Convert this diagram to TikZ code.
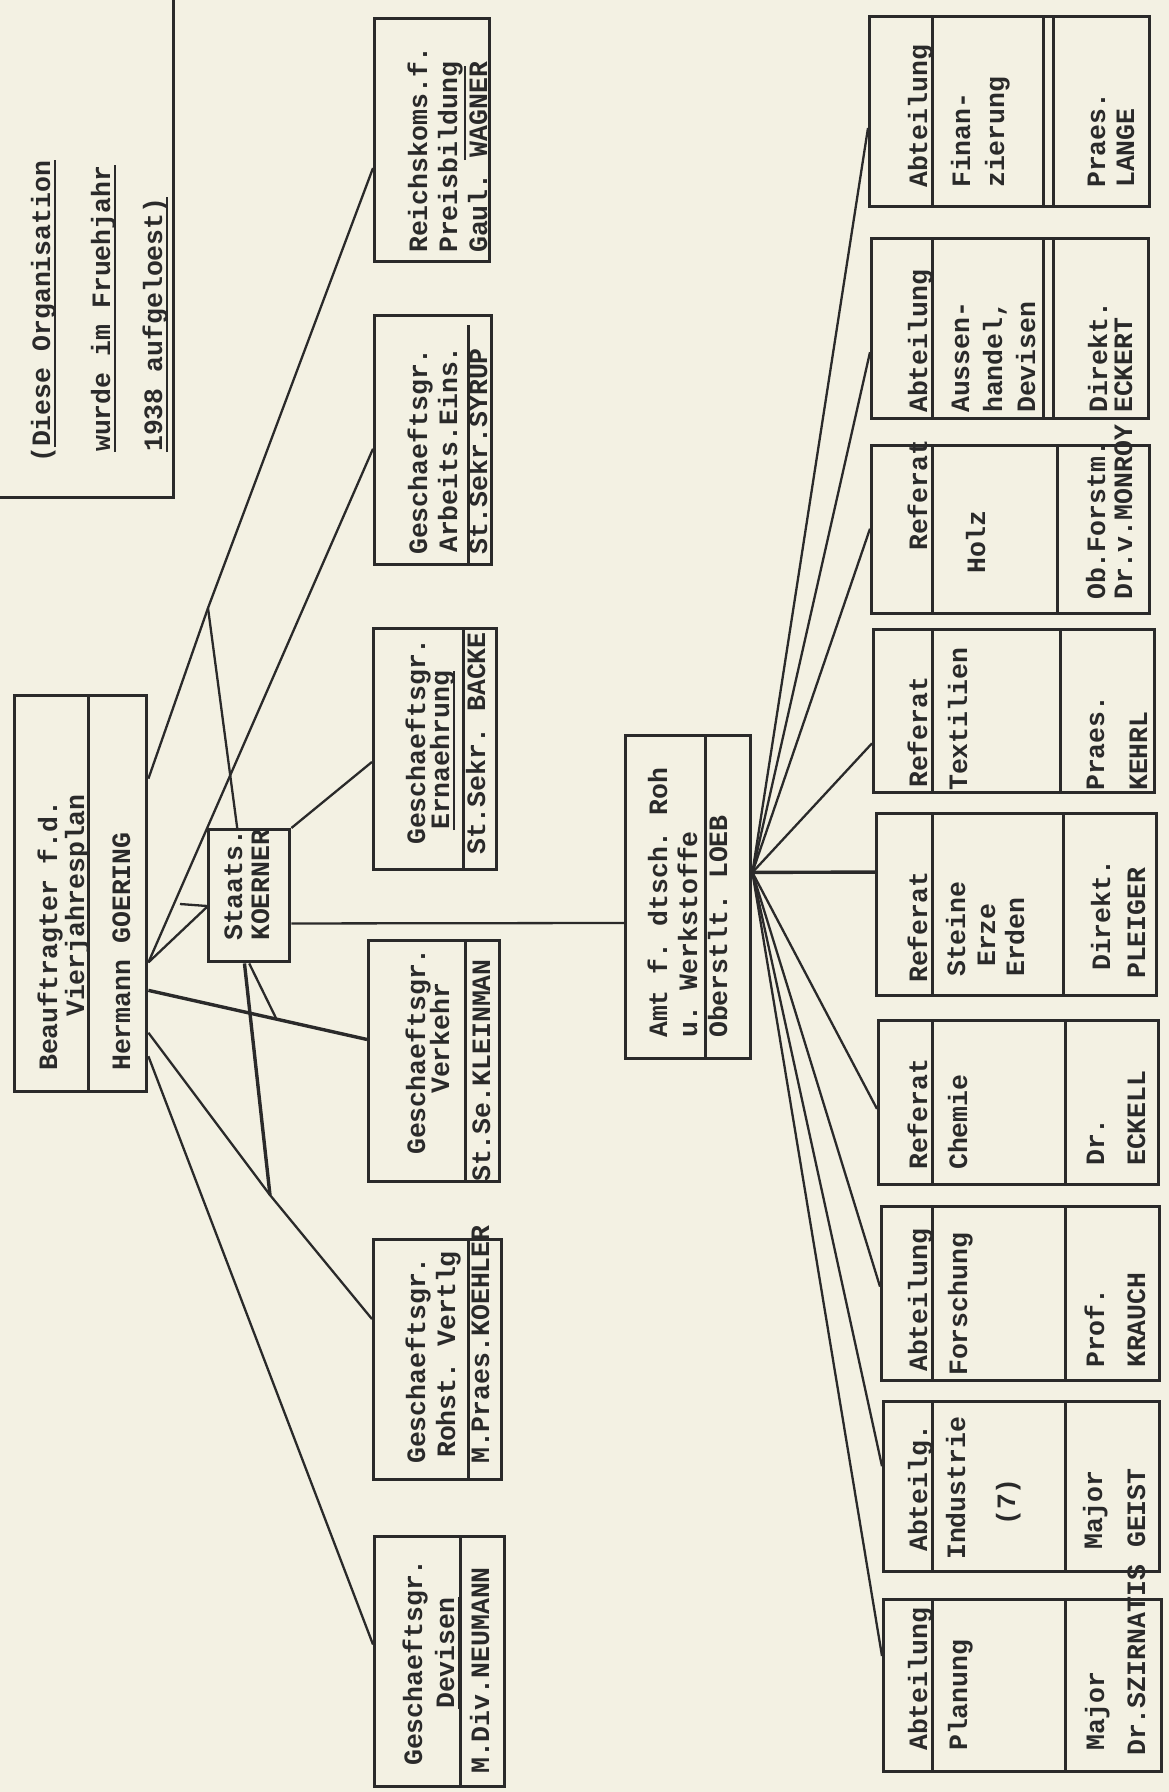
\documentclass[tikz,border=0pt]{standalone}
\usepackage{fontspec}
\setmonofont{Liberation Mono}
\usetikzlibrary{calc}
\definecolor{paper}{RGB}{243,241,227}
\definecolor{ink}{RGB}{42,42,42}
\tikzset{
  box/.style={draw=ink, line width=3.4pt, inner sep=0pt, anchor=north west, rectangle},
  tx/.style={rotate=90, anchor=west, inner sep=0pt, text height=14pt, text depth=0pt, text=ink,
    font=\ttfamily\bfseries\fontsize{26.5}{30}\selectfont},
  con/.style={draw=ink, line width=2.3pt},
  conthick/.style={draw=ink, line width=3.4pt},
  divline/.style={draw=ink, line width=3pt},
  uline/.style={draw=ink, line width=2pt}
}
\begin{document}
\begin{tikzpicture}[x=1pt,y=-1pt]
\useasboundingbox (0,0) rectangle (1169,1792);
\fill[paper] (0,0) rectangle (1169,1792);

% ---------- boxes ----------
\node[box,anchor=south east,minimum width=220pt,minimum height=540pt] (note) at (175,499) {};
\node[box,minimum width=115pt,minimum height=243pt] (reich) at (373,17) {};
\node[box,minimum width=117pt,minimum height=249pt] (arbeit) at (373,314) {};
\node[box,minimum width=123pt,minimum height=241pt] (ernae) at (372,627) {};
\node[box,minimum width=131pt,minimum height=241pt] (verk) at (367,939) {};
\node[box,minimum width=128pt,minimum height=240pt] (rohst) at (372,1238) {};
\node[box,minimum width=130pt,minimum height=250pt] (devis) at (373,1535) {};
\node[box,minimum width=132pt,minimum height=396pt] (goering) at (13,694) {};
\node[box,minimum width=81pt,minimum height=132pt] (staats) at (207,828) {};
\node[box,minimum width=125pt,minimum height=323pt] (amt) at (624,734) {};
\node[box,minimum width=280pt,minimum height=190pt] (fin) at (868,15) {};
\node[box,minimum width=277pt,minimum height=180pt] (auss) at (870,237) {};
\node[box,minimum width=278pt,minimum height=168pt] (holz) at (870,444) {};
\node[box,minimum width=281pt,minimum height=163pt] (textil) at (872,628) {};
\node[box,minimum width=280pt,minimum height=182pt] (steine) at (875,812) {};
\node[box,minimum width=280pt,minimum height=164pt] (chemie) at (877,1019) {};
\node[box,minimum width=278pt,minimum height=174pt] (forsch) at (880,1205) {};
\node[box,minimum width=276pt,minimum height=170pt] (indu) at (882,1400) {};
\node[box,minimum width=278pt,minimum height=172pt] (plan) at (882,1598) {};

% ---------- dividers ----------
\draw[divline] ($(goering.north west)+(75,0)$) -- ($(goering.south west)+(75,0)$);
\draw[divline] ($(arbeit.north west)+(95,11)$) -- ($(arbeit.south west)+(95,0)$);
\draw[divline] ($(ernae.north west)+(91,0)$) -- ($(ernae.south west)+(91,0)$);
\draw[divline] ($(verk.north west)+(98,0)$) -- ($(verk.south west)+(98,0)$);
\draw[divline] ($(rohst.north west)+(96,0)$) -- ($(rohst.south west)+(96,0)$);
\draw[divline] ($(devis.north west)+(87,0)$) -- ($(devis.south west)+(87,0)$);
\draw[divline] ($(amt.north west)+(81,0)$) -- ($(amt.south west)+(81,0)$);
\foreach \b/\h/\d in {fin/64/175, auss/62/173, holz/62/187, textil/60/188, steine/57/188,
  chemie/55/188, forsch/52/185, indu/50/183, plan/50/183}{
  \draw[divline] ($(\b.north west)+(\h,0)$) -- ($(\b.south west)+(\h,0)$);
  \draw[divline] ($(\b.north west)+(\d,0)$) -- ($(\b.south west)+(\d,0)$);
}
\draw[divline] ($(fin.north west)+(185,0)$) -- ($(fin.south west)+(185,0)$);
\draw[divline] ($(auss.north west)+(183,0)$) -- ($(auss.south west)+(183,0)$);

% ---------- connectors ----------
\coordinate (j1) at (208,608);
\coordinate (j2) at (270,1195);
\coordinate (stub) at (180,904);
\draw[con] ($(goering.north east)!0.212!(goering.south east)$) -- (j1)
  -- ($(reich.north west)!0.613!(reich.south west)$);
\draw[con] ($(staats.north west)!0.358!(staats.north east)$) -- (j1);
\draw[con] ($(goering.north east)!0.672!(goering.south east)$)
  -- ($(arbeit.north west)!0.534!(arbeit.south west)$);
\draw[con] ($(goering.north east)!0.672!(goering.south east)$)
  -- ($(staats.north west)!0.583!(staats.south west)$);
\draw[con] (stub) -- ($(staats.north west)!0.576!(staats.south west)$);
\coordinate (gv) at ($(goering.north east)!0.742!(goering.south east)$);
\coordinate (vg) at ($(verk.north west)!0.411!(verk.south west)$);
\draw[conthick] (gv) -- (vg);
\draw[con] ($(staats.south west)!0.5!(staats.south east)$) -- ($(gv)!0.586!(vg)$);
\draw[con] ($(goering.north east)!0.848!(goering.south east)$) -- (j2)
  -- ($(rohst.north west)!0.333!(rohst.south west)$);
\draw[conthick] ($(staats.south west)!0.444!(staats.south east)$) -- (j2);
\draw[con] ($(goering.north east)!0.907!(goering.south east)$)
  -- ($(devis.north west)!0.432!(devis.south west)$);
\draw[con] (staats.north east) -- ($(ernae.north west)!0.552!(ernae.south west)$);
\draw[con] ($(staats.north east)!0.705!(staats.south east)$)
  -- ($(amt.north west)!0.579!(amt.south west)$);
\coordinate (fo) at ($(amt.north east)!0.424!(amt.south east)$);
\foreach \b/\t in {fin/0.584, auss/0.628, holz/0.494, textil/0.693,
  chemie/0.537, forsch/0.46, indu/0.382, plan/0.331}{
  \draw[con] (fo) -- ($(\b.north west)!\t!(\b.south west)$);
}
\draw[conthick] (fo) -- ($(steine.north west)!0.324!(steine.south west)$);

% ---------- texts ----------
\node[tx] (n1) at (43,463) {(Diese Organisation};
\node[tx] (n2) at (103,452) {wurde im Fruehjahr};
\node[tx] (n3) at (155,452) {1938 aufgeloest)};
\draw[uline] ($(n1.south west)+(5,-16)$) -- ($(n1.south east)+(5,0)$);
\draw[uline] ($(n2.south west)+(5,0)$) -- ($(n2.south east)+(5,0)$);
\draw[uline] ($(n3.south west)+(5,0)$) -- ($(n3.south east)+(5,0)$);

\node[tx] (g1) at (50,1071) {Beauftragter f.d.};
\node[tx] (g2) at (77,1017) {Vierjahresplan};
\node[tx] (g3) at (123,1071) {Hermann GOERING};

\node[tx] (s1) at (235,941) {Staats.};
\node[tx] (s2) at (262,941) {KOERNER};

\node[tx] (r1) at (420,253) {Reichskoms.f.};
\node[tx] (r2) at (450,253) {Preisbildung};
\node[tx] (r3) at (480,253) {Gaul. WAGNER};
\draw[uline] (465,160) -- (465,66);

\node[tx] (a1) at (420,555) {Geschaeftsgr.};
\node[tx] (a2) at (450,553) {Arbeits.Eins.};
\node[tx] (a3) at (480,555) {St.Sekr.SYRUP};

\node[tx] (e1) at (418,845) {Geschaeftsgr.};
\node[tx] (e2) at (442,830) {Ernaehrung};
\node[tx] (e3) at (478,855) {St.Sekr. BACKE};
\draw[uline] ($(e2.south west)+(5,0)$) -- ($(e2.south east)+(5,0)$);

\node[tx] (v1) at (418,1155) {Geschaeftsgr.};
\node[tx] (v2) at (442,1094) {Verkehr};
\node[tx] (v3) at (483,1182) {St.Se.KLEINMAN};

\node[tx] (k1) at (418,1464) {Geschaeftsgr.};
\node[tx] (k2) at (448,1458) {Rohst. Vertlg};
\node[tx] (k3) at (482,1464) {M.Praes.KOEHLER};

\node[tx] (d1) at (415,1766) {Geschaeftsgr.};
\node[tx] (d2) at (447,1709) {Devisen};
\node[tx] (d3) at (482,1774) {M.Div.NEUMANN};
\draw[uline] ($(d2.south west)+(5,0)$) -- ($(d2.south east)+(5,0)$);

\node[tx] (m1) at (660,1038) {Amt f. dtsch. Roh};
\node[tx] (m2) at (690,1038) {u. Werkstoffe};
\node[tx] (m3) at (720,1038) {Oberstlt. LOEB};

% lower boxes
\node[tx] (f1) at (920,188) {Abteilung};
\node[tx] (f2) at (963,188) {Finan-};
\node[tx] (f3) at (997,188) {zierung};
\node[tx] (f4) at (1098,188) {Praes.};
\node[tx] (f5) at (1127,188) {LANGE};

\node[tx] (h1) at (920,413) {Abteilung};
\node[tx] (h2) at (962,413) {Aussen-};
\node[tx] (h3) at (995,413) {handel,};
\node[tx] (h4) at (1028,413) {Devisen};
\node[tx] (h5) at (1100,413) {Direkt.};
\node[tx] (h6) at (1125,413) {ECKERT};

\node[tx] (o1) at (920,551) {Referat};
\node[tx] (o2) at (978,574) {Holz};
\node[tx] (o3) at (1098,600) {Ob.Forstm.};
\node[tx] (o4) at (1125,600) {Dr.v.MONROY};

\node[tx] (t1) at (920,788) {Referat};
\node[tx] (t2) at (960,791) {Textilien};
\node[tx] (t3) at (1097,791) {Praes.};
\node[tx] (t4) at (1140,791) {KEHRL};

\node[tx] (w1) at (920,983) {Referat};
\node[tx] (w2) at (958,977) {Steine};
\node[tx] (w3) at (988,967) {Erze};
\node[tx] (w4) at (1017,977) {Erden};
\node[tx] (w5) at (1103,971) {Direkt.};
\node[tx] (w6) at (1138,979) {PLEIGER};

\node[tx] (c1) at (920,1170) {Referat};
\node[tx] (c2) at (960,1170) {Chemie};
\node[tx] (c3) at (1097,1166) {Dr.};
\node[tx] (c4) at (1138,1166) {ECKELL};

\node[tx] (p1) at (920,1372) {Abteilung};
\node[tx] (p2) at (960,1376) {Forschung};
\node[tx] (p3) at (1097,1368) {Prof.};
\node[tx] (p4) at (1138,1368) {KRAUCH};

\node[tx] (i1) at (920,1552) {Abteilg.};
\node[tx] (i2) at (958,1560) {Industrie};
\node[tx] (i3) at (1008,1526) {(7)};
\node[tx] (i4) at (1095,1550) {Major};
\node[tx] (i5) at (1138,1548) {GEIST};

\node[tx] (l1) at (920,1751) {Abteilung};
\node[tx] (l2) at (960,1751) {Planung};
\node[tx] (l3) at (1097,1751) {Major};
\node[tx] (l4) at (1138,1756) {Dr.SZIRNATIS};
\end{tikzpicture}
\end{document}
